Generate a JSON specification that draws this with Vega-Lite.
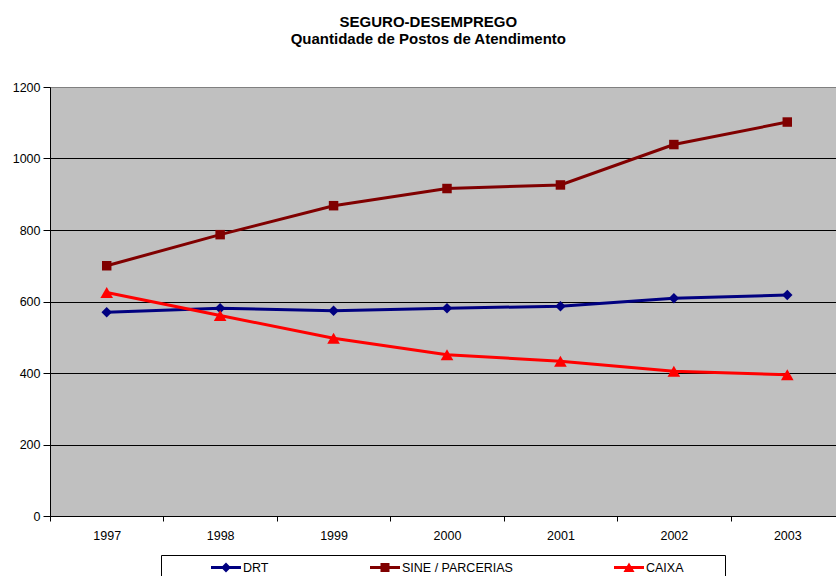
{
  "$schema": "https://vega.github.io/schema/vega-lite/v6.json",
  "autosize": {"type": "none"},
  "padding": {"left": 50, "top": 87, "right": 0, "bottom": 60},
  "width": 794,
  "height": 429,
  "background": "white",
  "title": {
    "text": "SEGURO-DESEMPREGO",
    "subtitle": "Quantidade de Postos de Atendimento",
    "font": "Liberation Sans",
    "fontSize": 15,
    "fontWeight": "bold",
    "color": "black",
    "subtitleFont": "Liberation Sans",
    "subtitleFontSize": 15,
    "subtitleFontWeight": "bold",
    "subtitleColor": "black",
    "subtitlePadding": 2,
    "anchor": "middle",
    "frame": "bounds",
    "offset": 34.5
  },
  "config": {
    "view": {"fill": "#C0C0C0", "stroke": "#808080", "strokeWidth": 1},
    "axis": {"labelFont": "Liberation Sans", "labelFontSize": 12.5, "labelColor": "black", "domainColor": "black", "tickColor": "black", "titleFont": "Liberation Sans"}
  },
  "data": {
    "values": [
      {"ano": "1997", "serie": "DRT", "valor": 570},
      {"ano": "1998", "serie": "DRT", "valor": 581},
      {"ano": "1999", "serie": "DRT", "valor": 574},
      {"ano": "2000", "serie": "DRT", "valor": 581},
      {"ano": "2001", "serie": "DRT", "valor": 587},
      {"ano": "2002", "serie": "DRT", "valor": 609},
      {"ano": "2003", "serie": "DRT", "valor": 618},
      {"ano": "1997", "serie": "SINE / PARCERIAS", "valor": 700},
      {"ano": "1998", "serie": "SINE / PARCERIAS", "valor": 787},
      {"ano": "1999", "serie": "SINE / PARCERIAS", "valor": 868},
      {"ano": "2000", "serie": "SINE / PARCERIAS", "valor": 916},
      {"ano": "2001", "serie": "SINE / PARCERIAS", "valor": 926},
      {"ano": "2002", "serie": "SINE / PARCERIAS", "valor": 1039},
      {"ano": "2003", "serie": "SINE / PARCERIAS", "valor": 1102},
      {"ano": "1997", "serie": "CAIXA", "valor": 625},
      {"ano": "1998", "serie": "CAIXA", "valor": 561},
      {"ano": "1999", "serie": "CAIXA", "valor": 497},
      {"ano": "2000", "serie": "CAIXA", "valor": 451},
      {"ano": "2001", "serie": "CAIXA", "valor": 433},
      {"ano": "2002", "serie": "CAIXA", "valor": 405},
      {"ano": "2003", "serie": "CAIXA", "valor": 395}
    ]
  },
  "encoding": {
    "x": {
      "field": "ano",
      "type": "ordinal",
      "bandPosition": 0.5,
      "scale": {"type": "band", "paddingInner": 0, "paddingOuter": 0},
      "axis": {"title": null, "labelAngle": 0, "tickBand": "extent", "tickSize": 5, "labelPadding": 8, "grid": false}
    },
    "y": {
      "field": "valor",
      "type": "quantitative",
      "scale": {"domain": [0, 1200], "nice": false, "zero": true},
      "axis": {
        "title": null,
        "format": "d",
        "values": [0, 200, 400, 600, 800, 1000, 1200],
        "grid": true,
        "gridColor": {"condition": {"test": "datum.value === 1200", "value": "#808080"}, "value": "black"},
        "gridOpacity": 1,
        "tickSize": 7,
        "labelPadding": 3
      }
    },
    "color": {
      "field": "serie",
      "type": "nominal",
      "scale": {"domain": ["DRT", "SINE / PARCERIAS", "CAIXA"], "range": ["#000080", "#800000", "#FF0000"]},
      "legend": {
        "orient": "none",
        "legendX": 111,
        "legendY": 468,
        "direction": "horizontal",
        "padding": 5,
        "symbolOffset": 45,
        "columnPadding": 56,
        "labelOffset": 2,
        "labelFont": "Liberation Sans",
        "labelFontSize": 12.5,
        "labelColor": "black",
        "strokeColor": "black",
        "fillColor": "white",
        "symbolSize": 900,
        "symbolStrokeWidth": 0,
        "symbolOpacity": 1,
        "clipHeight": 15,
        "title": "\u00a0",
        "titleOrient": "right",
        "titlePadding": 36,
        "titleFontSize": 12.5,
        "titleFont": "Liberation Sans",
        "encode": {
          "symbols": {
            "update": {
              "shape": {"signal": "datum.value === 'DRT' ? 'M-1,-0.1H1V0.1H-1Z M0,-0.33L0.33,0L0,0.33L-0.33,0Z' : (datum.value === 'CAIXA' ? 'M-1,-0.1H1V0.1H-1Z M0,-0.33L0.37,0.3H-0.37Z' : 'M-1,-0.1H1V0.1H-1Z M-0.3,-0.3H0.3V0.3H-0.3Z')"},
              "fill": {"signal": "datum.value === 'DRT' ? '#000080' : (datum.value === 'CAIXA' ? '#FF0000' : '#800000')"},
              "strokeWidth": {"value": 0}
            }
          }
        }
      }
    }
  },
  "layer": [
    {
      "mark": {"type": "line", "strokeWidth": 3}
    },
    {
      "transform": [{"filter": "datum.serie === 'DRT'"}],
      "mark": {"type": "point", "filled": true, "opacity": 1, "shape": "diamond", "size": 110}
    },
    {
      "transform": [{"filter": "datum.serie === 'SINE / PARCERIAS'"}],
      "mark": {"type": "point", "filled": true, "opacity": 1, "shape": "square", "size": 90}
    },
    {
      "transform": [{"filter": "datum.serie === 'CAIXA'"}],
      "mark": {"type": "point", "filled": true, "opacity": 1, "shape": "triangle-up", "size": 160}
    }
  ]
}
